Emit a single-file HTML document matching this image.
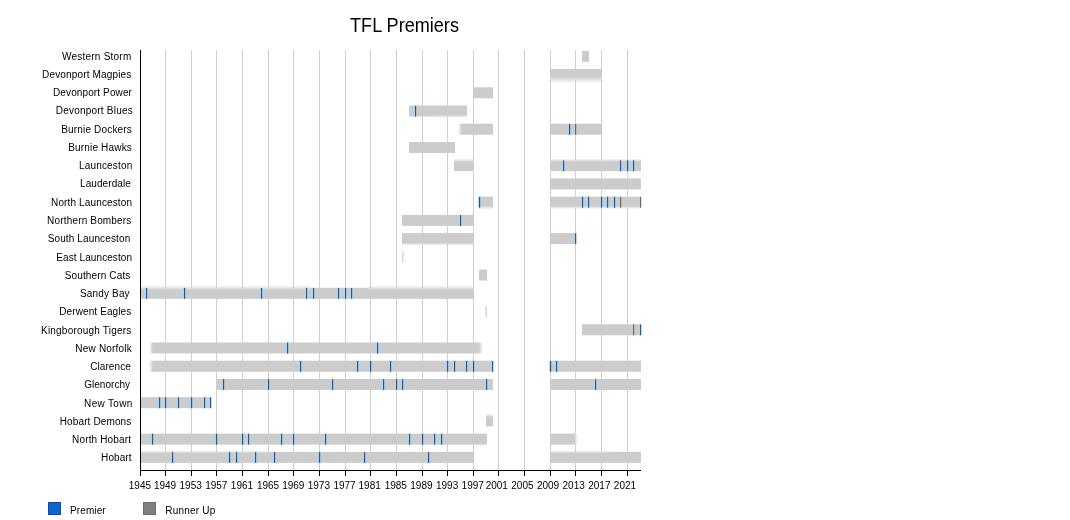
<!DOCTYPE html>
<html><head><meta charset="utf-8"><title>TFL Premiers</title>
<style>
html,body{margin:0;padding:0;background:#fff;}
body{width:1070px;height:520px;overflow:hidden;}
svg{display:block;filter:blur(0.35px);}
text{font-family:"Liberation Sans", Arial, Helvetica, sans-serif;fill:#000;}
</style></head><body>
<svg width="1070" height="520" viewBox="0 0 1070 520">
<rect x="0" y="0" width="1070" height="520" fill="#fff"/>
<defs>
<linearGradient id="gOutT" x1="0" y1="0" x2="0" y2="1"><stop offset="0" stop-color="#ccc" stop-opacity="0"/><stop offset="1" stop-color="#ccc" stop-opacity="0.5"/></linearGradient>
<linearGradient id="gInT" x1="0" y1="0" x2="0" y2="1"><stop offset="0" stop-color="#fff" stop-opacity="0.5"/><stop offset="1" stop-color="#fff" stop-opacity="0"/></linearGradient>
<linearGradient id="gOutB" x1="0" y1="1" x2="0" y2="0"><stop offset="0" stop-color="#ccc" stop-opacity="0"/><stop offset="1" stop-color="#ccc" stop-opacity="0.5"/></linearGradient>
<linearGradient id="gInB" x1="0" y1="1" x2="0" y2="0"><stop offset="0" stop-color="#fff" stop-opacity="0.5"/><stop offset="1" stop-color="#fff" stop-opacity="0"/></linearGradient>
<linearGradient id="gOutL" x1="0" y1="0" x2="1" y2="0"><stop offset="0" stop-color="#ccc" stop-opacity="0"/><stop offset="1" stop-color="#ccc" stop-opacity="0.5"/></linearGradient>
<linearGradient id="gInL" x1="0" y1="0" x2="1" y2="0"><stop offset="0" stop-color="#fff" stop-opacity="0.5"/><stop offset="1" stop-color="#fff" stop-opacity="0"/></linearGradient>
<linearGradient id="gOutR" x1="1" y1="0" x2="0" y2="0"><stop offset="0" stop-color="#ccc" stop-opacity="0"/><stop offset="1" stop-color="#ccc" stop-opacity="0.5"/></linearGradient>
<linearGradient id="gInR" x1="1" y1="0" x2="0" y2="0"><stop offset="0" stop-color="#fff" stop-opacity="0.5"/><stop offset="1" stop-color="#fff" stop-opacity="0"/></linearGradient>
</defs>
<text x="404.5" y="0" font-size="18.1" text-anchor="middle" transform="translate(0,32) scale(1,1.075)">TFL Premiers</text>
<g stroke="#cfcfcf" stroke-width="1" shape-rendering="crispEdges">
<line x1="165.5" y1="50" x2="165.5" y2="470"/>
<line x1="191.5" y1="50" x2="191.5" y2="470"/>
<line x1="216.5" y1="50" x2="216.5" y2="470"/>
<line x1="242.5" y1="50" x2="242.5" y2="470"/>
<line x1="268.5" y1="50" x2="268.5" y2="470"/>
<line x1="293.5" y1="50" x2="293.5" y2="470"/>
<line x1="319.5" y1="50" x2="319.5" y2="470"/>
<line x1="345.5" y1="50" x2="345.5" y2="470"/>
<line x1="370.5" y1="50" x2="370.5" y2="470"/>
<line x1="396.5" y1="50" x2="396.5" y2="470"/>
<line x1="422.5" y1="50" x2="422.5" y2="470"/>
<line x1="447.5" y1="50" x2="447.5" y2="470"/>
<line x1="473.5" y1="50" x2="473.5" y2="470"/>
<line x1="498.5" y1="50" x2="498.5" y2="470"/>
<line x1="524.5" y1="50" x2="524.5" y2="470"/>
<line x1="550.5" y1="50" x2="550.5" y2="470"/>
<line x1="575.5" y1="50" x2="575.5" y2="470"/>
<line x1="601.5" y1="50" x2="601.5" y2="470"/>
<line x1="627.5" y1="50" x2="627.5" y2="470"/>
</g>
<g fill="#cccccc">
<rect x="582" y="50.80" width="7" height="11.00"/>
<rect x="550" y="69.03" width="52" height="11.00"/>
<rect x="473" y="87.26" width="20" height="11.00"/>
<rect x="409" y="105.49" width="58" height="11.00"/>
<rect x="460" y="123.72" width="33" height="11.00"/>
<rect x="550" y="123.72" width="52" height="11.00"/>
<rect x="409" y="141.95" width="46" height="11.00"/>
<rect x="454" y="160.18" width="20" height="11.00"/>
<rect x="550" y="160.18" width="91" height="11.00"/>
<rect x="550" y="178.41" width="91" height="11.00"/>
<rect x="479" y="196.64" width="14" height="11.00"/>
<rect x="550" y="196.64" width="91" height="11.00"/>
<rect x="402" y="214.87" width="72" height="11.00"/>
<rect x="402" y="233.10" width="72" height="11.00"/>
<rect x="550" y="233.10" width="26" height="11.00"/>
<rect x="479" y="269.56" width="8" height="11.00"/>
<rect x="140" y="287.79" width="334" height="11.00"/>
<rect x="582" y="324.25" width="59" height="11.00"/>
<rect x="151" y="342.48" width="330" height="11.00"/>
<rect x="151" y="360.71" width="342" height="11.00"/>
<rect x="550" y="360.71" width="91" height="11.00"/>
<rect x="216" y="378.94" width="277" height="11.00"/>
<rect x="550" y="378.94" width="91" height="11.00"/>
<rect x="140" y="397.17" width="71" height="11.00"/>
<rect x="486" y="415.40" width="7" height="11.00"/>
<rect x="140" y="433.63" width="347" height="11.00"/>
<rect x="550" y="433.63" width="26" height="11.00"/>
<rect x="140" y="451.86" width="334" height="11.00"/>
<rect x="550" y="451.86" width="91" height="11.00"/>
</g>
<rect x="550" y="80.03" width="52" height="3.30" fill="url(#gOutB)"/>
<rect x="550" y="76.73" width="52" height="3.30" fill="url(#gInB)"/>
<rect x="432" y="116.49" width="35" height="1.60" fill="url(#gOutB)"/>
<rect x="432" y="114.89" width="35" height="1.60" fill="url(#gInB)"/>
<rect x="458.00" y="123.72" width="2.00" height="11.00" fill="url(#gOutL)"/>
<rect x="460.00" y="123.72" width="2.00" height="11.00" fill="url(#gInL)"/>
<rect x="454" y="158.18" width="20" height="2.00" fill="url(#gOutT)"/>
<rect x="454" y="160.18" width="20" height="2.00" fill="url(#gInT)"/>
<rect x="550" y="158.58" width="91" height="1.60" fill="url(#gOutT)"/>
<rect x="550" y="160.18" width="91" height="1.60" fill="url(#gInT)"/>
<rect x="479" y="207.64" width="14" height="2.00" fill="url(#gOutB)"/>
<rect x="479" y="205.64" width="14" height="2.00" fill="url(#gInB)"/>
<rect x="550" y="207.64" width="91" height="1.60" fill="url(#gOutB)"/>
<rect x="550" y="206.04" width="91" height="1.60" fill="url(#gInB)"/>
<rect x="402" y="244.10" width="72" height="1.60" fill="url(#gOutB)"/>
<rect x="402" y="242.50" width="72" height="1.60" fill="url(#gInB)"/>
<rect x="140" y="285.39" width="170" height="2.40" fill="url(#gOutT)"/>
<rect x="140" y="287.79" width="170" height="2.40" fill="url(#gInT)"/>
<rect x="368" y="285.39" width="106" height="2.40" fill="url(#gOutT)"/>
<rect x="368" y="287.79" width="106" height="2.40" fill="url(#gInT)"/>
<rect x="149.20" y="342.48" width="1.80" height="11.00" fill="url(#gOutL)"/>
<rect x="151.00" y="342.48" width="1.80" height="11.00" fill="url(#gInL)"/>
<rect x="481.00" y="342.48" width="2.20" height="11.00" fill="url(#gOutR)"/>
<rect x="478.80" y="342.48" width="2.20" height="11.00" fill="url(#gInR)"/>
<rect x="149.20" y="360.71" width="1.80" height="11.00" fill="url(#gOutL)"/>
<rect x="151.00" y="360.71" width="1.80" height="11.00" fill="url(#gInL)"/>
<rect x="486" y="413.40" width="7" height="2.00" fill="url(#gOutT)"/>
<rect x="486" y="415.40" width="7" height="2.00" fill="url(#gInT)"/>
<rect x="576.00" y="433.63" width="1.80" height="11.00" fill="url(#gOutR)"/>
<rect x="574.20" y="433.63" width="1.80" height="11.00" fill="url(#gInR)"/>
<rect x="140" y="450.46" width="130" height="1.40" fill="url(#gOutT)"/>
<rect x="140" y="451.86" width="130" height="1.40" fill="url(#gInT)"/>
<rect x="550" y="450.46" width="60" height="1.40" fill="url(#gOutT)"/>
<rect x="550" y="451.86" width="60" height="1.40" fill="url(#gInT)"/>
<rect x="402.32" y="251.33" width="1" height="11.00" fill="#c2c2c2"/>
<rect x="485.65" y="306.02" width="1" height="11.00" fill="#c2c2c2"/>
<rect x="414" y="105.49" width="1" height="11.00" fill="#a3d5f6" opacity="0.85"/>
<rect x="416" y="105.49" width="1" height="11.00" fill="#a3d5f6" opacity="0.4"/>
<rect x="415" y="105.69" width="1.15" height="10.80" fill="#1d5a98"/>
<rect x="568" y="123.72" width="1" height="11.00" fill="#a3d5f6" opacity="0.85"/>
<rect x="570" y="123.72" width="1" height="11.00" fill="#a3d5f6" opacity="0.4"/>
<rect x="569" y="123.92" width="1.15" height="10.80" fill="#1d5a98"/>
<rect x="575" y="123.92" width="1.2" height="10.80" fill="#6a6a6a"/>
<rect x="562" y="160.18" width="1" height="11.00" fill="#a3d5f6" opacity="0.85"/>
<rect x="564" y="160.18" width="1" height="11.00" fill="#a3d5f6" opacity="0.4"/>
<rect x="563" y="160.38" width="1.15" height="10.80" fill="#1d5a98"/>
<rect x="619" y="160.18" width="1" height="11.00" fill="#a3d5f6" opacity="0.85"/>
<rect x="621" y="160.18" width="1" height="11.00" fill="#a3d5f6" opacity="0.4"/>
<rect x="620" y="160.38" width="1.15" height="10.80" fill="#1d5a98"/>
<rect x="626" y="160.18" width="1" height="11.00" fill="#a3d5f6" opacity="0.85"/>
<rect x="628" y="160.18" width="1" height="11.00" fill="#a3d5f6" opacity="0.4"/>
<rect x="627" y="160.38" width="1.15" height="10.80" fill="#1d5a98"/>
<rect x="632" y="160.18" width="1" height="11.00" fill="#a3d5f6" opacity="0.85"/>
<rect x="634" y="160.18" width="1" height="11.00" fill="#a3d5f6" opacity="0.4"/>
<rect x="633" y="160.38" width="1.15" height="10.80" fill="#1d5a98"/>
<rect x="478" y="196.64" width="1" height="11.00" fill="#a3d5f6" opacity="0.85"/>
<rect x="480" y="196.64" width="1" height="11.00" fill="#a3d5f6" opacity="0.4"/>
<rect x="479" y="196.84" width="1.15" height="10.80" fill="#1d5a98"/>
<rect x="581" y="196.64" width="1" height="11.00" fill="#a3d5f6" opacity="0.85"/>
<rect x="583" y="196.64" width="1" height="11.00" fill="#a3d5f6" opacity="0.4"/>
<rect x="582" y="196.84" width="1.15" height="10.80" fill="#1d5a98"/>
<rect x="587" y="196.64" width="1" height="11.00" fill="#a3d5f6" opacity="0.85"/>
<rect x="589" y="196.64" width="1" height="11.00" fill="#a3d5f6" opacity="0.4"/>
<rect x="588" y="196.84" width="1.15" height="10.80" fill="#1d5a98"/>
<rect x="600" y="196.64" width="1" height="11.00" fill="#a3d5f6" opacity="0.85"/>
<rect x="602" y="196.64" width="1" height="11.00" fill="#a3d5f6" opacity="0.4"/>
<rect x="601" y="196.84" width="1.15" height="10.80" fill="#1d5a98"/>
<rect x="606" y="196.64" width="1" height="11.00" fill="#a3d5f6" opacity="0.85"/>
<rect x="608" y="196.64" width="1" height="11.00" fill="#a3d5f6" opacity="0.4"/>
<rect x="607" y="196.84" width="1.15" height="10.80" fill="#1d5a98"/>
<rect x="613" y="196.64" width="1" height="11.00" fill="#a3d5f6" opacity="0.85"/>
<rect x="615" y="196.64" width="1" height="11.00" fill="#a3d5f6" opacity="0.4"/>
<rect x="614" y="196.84" width="1.15" height="10.80" fill="#1d5a98"/>
<rect x="620" y="196.84" width="1.2" height="10.80" fill="#6a6a6a"/>
<rect x="640" y="196.84" width="1.2" height="10.80" fill="#6a6a6a"/>
<rect x="459" y="214.87" width="1" height="11.00" fill="#a3d5f6" opacity="0.85"/>
<rect x="461" y="214.87" width="1" height="11.00" fill="#a3d5f6" opacity="0.4"/>
<rect x="460" y="215.07" width="1.15" height="10.80" fill="#1d5a98"/>
<rect x="574" y="233.10" width="1" height="11.00" fill="#a3d5f6" opacity="0.85"/>
<rect x="576" y="233.10" width="1" height="11.00" fill="#a3d5f6" opacity="0.4"/>
<rect x="575" y="233.30" width="1.15" height="10.80" fill="#1d5a98"/>
<rect x="145" y="287.79" width="1" height="11.00" fill="#a3d5f6" opacity="0.85"/>
<rect x="147" y="287.79" width="1" height="11.00" fill="#a3d5f6" opacity="0.4"/>
<rect x="146" y="287.99" width="1.15" height="10.80" fill="#1d5a98"/>
<rect x="183" y="287.79" width="1" height="11.00" fill="#a3d5f6" opacity="0.85"/>
<rect x="185" y="287.79" width="1" height="11.00" fill="#a3d5f6" opacity="0.4"/>
<rect x="184" y="287.99" width="1.15" height="10.80" fill="#1d5a98"/>
<rect x="260" y="287.79" width="1" height="11.00" fill="#a3d5f6" opacity="0.85"/>
<rect x="262" y="287.79" width="1" height="11.00" fill="#a3d5f6" opacity="0.4"/>
<rect x="261" y="287.99" width="1.15" height="10.80" fill="#1d5a98"/>
<rect x="305" y="287.79" width="1" height="11.00" fill="#a3d5f6" opacity="0.85"/>
<rect x="307" y="287.79" width="1" height="11.00" fill="#a3d5f6" opacity="0.4"/>
<rect x="306" y="287.99" width="1.15" height="10.80" fill="#1d5a98"/>
<rect x="312" y="287.79" width="1" height="11.00" fill="#a3d5f6" opacity="0.85"/>
<rect x="314" y="287.79" width="1" height="11.00" fill="#a3d5f6" opacity="0.4"/>
<rect x="313" y="287.99" width="1.15" height="10.80" fill="#1d5a98"/>
<rect x="337" y="287.79" width="1" height="11.00" fill="#a3d5f6" opacity="0.85"/>
<rect x="339" y="287.79" width="1" height="11.00" fill="#a3d5f6" opacity="0.4"/>
<rect x="338" y="287.99" width="1.15" height="10.80" fill="#1d5a98"/>
<rect x="344" y="287.79" width="1" height="11.00" fill="#a3d5f6" opacity="0.85"/>
<rect x="346" y="287.79" width="1" height="11.00" fill="#a3d5f6" opacity="0.4"/>
<rect x="345" y="287.99" width="1.15" height="10.80" fill="#1d5a98"/>
<rect x="350" y="287.79" width="1" height="11.00" fill="#a3d5f6" opacity="0.85"/>
<rect x="352" y="287.79" width="1" height="11.00" fill="#a3d5f6" opacity="0.4"/>
<rect x="351" y="287.99" width="1.15" height="10.80" fill="#1d5a98"/>
<rect x="639" y="324.25" width="1" height="11.00" fill="#a3d5f6" opacity="0.85"/>
<rect x="641" y="324.25" width="1" height="11.00" fill="#a3d5f6" opacity="0.4"/>
<rect x="640" y="324.45" width="1.15" height="10.80" fill="#1d5a98"/>
<rect x="633" y="324.45" width="1.2" height="10.80" fill="#6a6a6a"/>
<rect x="286" y="342.48" width="1" height="11.00" fill="#a3d5f6" opacity="0.85"/>
<rect x="288" y="342.48" width="1" height="11.00" fill="#a3d5f6" opacity="0.4"/>
<rect x="287" y="342.68" width="1.15" height="10.80" fill="#1d5a98"/>
<rect x="376" y="342.48" width="1" height="11.00" fill="#a3d5f6" opacity="0.85"/>
<rect x="378" y="342.48" width="1" height="11.00" fill="#a3d5f6" opacity="0.4"/>
<rect x="377" y="342.68" width="1.15" height="10.80" fill="#1d5a98"/>
<rect x="299" y="360.71" width="1" height="11.00" fill="#a3d5f6" opacity="0.85"/>
<rect x="301" y="360.71" width="1" height="11.00" fill="#a3d5f6" opacity="0.4"/>
<rect x="300" y="360.91" width="1.15" height="10.80" fill="#1d5a98"/>
<rect x="356" y="360.71" width="1" height="11.00" fill="#a3d5f6" opacity="0.85"/>
<rect x="358" y="360.71" width="1" height="11.00" fill="#a3d5f6" opacity="0.4"/>
<rect x="357" y="360.91" width="1.15" height="10.80" fill="#1d5a98"/>
<rect x="369" y="360.71" width="1" height="11.00" fill="#a3d5f6" opacity="0.85"/>
<rect x="371" y="360.71" width="1" height="11.00" fill="#a3d5f6" opacity="0.4"/>
<rect x="370" y="360.91" width="1.15" height="10.80" fill="#1d5a98"/>
<rect x="389" y="360.71" width="1" height="11.00" fill="#a3d5f6" opacity="0.85"/>
<rect x="391" y="360.71" width="1" height="11.00" fill="#a3d5f6" opacity="0.4"/>
<rect x="390" y="360.91" width="1.15" height="10.80" fill="#1d5a98"/>
<rect x="446" y="360.71" width="1" height="11.00" fill="#a3d5f6" opacity="0.85"/>
<rect x="448" y="360.71" width="1" height="11.00" fill="#a3d5f6" opacity="0.4"/>
<rect x="447" y="360.91" width="1.15" height="10.80" fill="#1d5a98"/>
<rect x="453" y="360.71" width="1" height="11.00" fill="#a3d5f6" opacity="0.85"/>
<rect x="455" y="360.71" width="1" height="11.00" fill="#a3d5f6" opacity="0.4"/>
<rect x="454" y="360.91" width="1.15" height="10.80" fill="#1d5a98"/>
<rect x="465" y="360.71" width="1" height="11.00" fill="#a3d5f6" opacity="0.85"/>
<rect x="467" y="360.71" width="1" height="11.00" fill="#a3d5f6" opacity="0.4"/>
<rect x="466" y="360.91" width="1.15" height="10.80" fill="#1d5a98"/>
<rect x="472" y="360.71" width="1" height="11.00" fill="#a3d5f6" opacity="0.85"/>
<rect x="474" y="360.71" width="1" height="11.00" fill="#a3d5f6" opacity="0.4"/>
<rect x="473" y="360.91" width="1.15" height="10.80" fill="#1d5a98"/>
<rect x="491" y="360.71" width="1" height="11.00" fill="#a3d5f6" opacity="0.85"/>
<rect x="493" y="360.71" width="1" height="11.00" fill="#a3d5f6" opacity="0.4"/>
<rect x="492" y="360.91" width="1.15" height="10.80" fill="#1d5a98"/>
<rect x="549" y="360.71" width="1" height="11.00" fill="#a3d5f6" opacity="0.85"/>
<rect x="551" y="360.71" width="1" height="11.00" fill="#a3d5f6" opacity="0.4"/>
<rect x="550" y="360.91" width="1.15" height="10.80" fill="#1d5a98"/>
<rect x="555" y="360.71" width="1" height="11.00" fill="#a3d5f6" opacity="0.85"/>
<rect x="557" y="360.71" width="1" height="11.00" fill="#a3d5f6" opacity="0.4"/>
<rect x="556" y="360.91" width="1.15" height="10.80" fill="#1d5a98"/>
<rect x="222" y="378.94" width="1" height="11.00" fill="#a3d5f6" opacity="0.85"/>
<rect x="224" y="378.94" width="1" height="11.00" fill="#a3d5f6" opacity="0.4"/>
<rect x="223" y="379.14" width="1.15" height="10.80" fill="#1d5a98"/>
<rect x="267" y="378.94" width="1" height="11.00" fill="#a3d5f6" opacity="0.85"/>
<rect x="269" y="378.94" width="1" height="11.00" fill="#a3d5f6" opacity="0.4"/>
<rect x="268" y="379.14" width="1.15" height="10.80" fill="#1d5a98"/>
<rect x="331" y="378.94" width="1" height="11.00" fill="#a3d5f6" opacity="0.85"/>
<rect x="333" y="378.94" width="1" height="11.00" fill="#a3d5f6" opacity="0.4"/>
<rect x="332" y="379.14" width="1.15" height="10.80" fill="#1d5a98"/>
<rect x="382" y="378.94" width="1" height="11.00" fill="#a3d5f6" opacity="0.85"/>
<rect x="384" y="378.94" width="1" height="11.00" fill="#a3d5f6" opacity="0.4"/>
<rect x="383" y="379.14" width="1.15" height="10.80" fill="#1d5a98"/>
<rect x="395" y="378.94" width="1" height="11.00" fill="#a3d5f6" opacity="0.85"/>
<rect x="397" y="378.94" width="1" height="11.00" fill="#a3d5f6" opacity="0.4"/>
<rect x="396" y="379.14" width="1.15" height="10.80" fill="#1d5a98"/>
<rect x="401" y="378.94" width="1" height="11.00" fill="#a3d5f6" opacity="0.85"/>
<rect x="403" y="378.94" width="1" height="11.00" fill="#a3d5f6" opacity="0.4"/>
<rect x="402" y="379.14" width="1.15" height="10.80" fill="#1d5a98"/>
<rect x="485" y="378.94" width="1" height="11.00" fill="#a3d5f6" opacity="0.85"/>
<rect x="487" y="378.94" width="1" height="11.00" fill="#a3d5f6" opacity="0.4"/>
<rect x="486" y="379.14" width="1.15" height="10.80" fill="#1d5a98"/>
<rect x="594" y="378.94" width="1" height="11.00" fill="#a3d5f6" opacity="0.85"/>
<rect x="596" y="378.94" width="1" height="11.00" fill="#a3d5f6" opacity="0.4"/>
<rect x="595" y="379.14" width="1.15" height="10.80" fill="#1d5a98"/>
<rect x="158" y="397.17" width="1" height="11.00" fill="#a3d5f6" opacity="0.85"/>
<rect x="160" y="397.17" width="1" height="11.00" fill="#a3d5f6" opacity="0.4"/>
<rect x="159" y="397.37" width="1.15" height="10.80" fill="#1d5a98"/>
<rect x="164" y="397.17" width="1" height="11.00" fill="#a3d5f6" opacity="0.85"/>
<rect x="166" y="397.17" width="1" height="11.00" fill="#a3d5f6" opacity="0.4"/>
<rect x="165" y="397.37" width="1.15" height="10.80" fill="#1d5a98"/>
<rect x="177" y="397.17" width="1" height="11.00" fill="#a3d5f6" opacity="0.85"/>
<rect x="179" y="397.17" width="1" height="11.00" fill="#a3d5f6" opacity="0.4"/>
<rect x="178" y="397.37" width="1.15" height="10.80" fill="#1d5a98"/>
<rect x="190" y="397.17" width="1" height="11.00" fill="#a3d5f6" opacity="0.85"/>
<rect x="192" y="397.17" width="1" height="11.00" fill="#a3d5f6" opacity="0.4"/>
<rect x="191" y="397.37" width="1.15" height="10.80" fill="#1d5a98"/>
<rect x="203" y="397.17" width="1" height="11.00" fill="#a3d5f6" opacity="0.85"/>
<rect x="205" y="397.17" width="1" height="11.00" fill="#a3d5f6" opacity="0.4"/>
<rect x="204" y="397.37" width="1.15" height="10.80" fill="#1d5a98"/>
<rect x="209" y="397.17" width="1" height="11.00" fill="#a3d5f6" opacity="0.85"/>
<rect x="211" y="397.17" width="1" height="11.00" fill="#a3d5f6" opacity="0.4"/>
<rect x="210" y="397.37" width="1.15" height="10.80" fill="#1d5a98"/>
<rect x="151" y="433.63" width="1" height="11.00" fill="#a3d5f6" opacity="0.85"/>
<rect x="153" y="433.63" width="1" height="11.00" fill="#a3d5f6" opacity="0.4"/>
<rect x="152" y="433.83" width="1.15" height="10.80" fill="#1d5a98"/>
<rect x="215" y="433.63" width="1" height="11.00" fill="#a3d5f6" opacity="0.85"/>
<rect x="217" y="433.63" width="1" height="11.00" fill="#a3d5f6" opacity="0.4"/>
<rect x="216" y="433.83" width="1.15" height="10.80" fill="#1d5a98"/>
<rect x="241" y="433.63" width="1" height="11.00" fill="#a3d5f6" opacity="0.85"/>
<rect x="243" y="433.63" width="1" height="11.00" fill="#a3d5f6" opacity="0.4"/>
<rect x="242" y="433.83" width="1.15" height="10.80" fill="#1d5a98"/>
<rect x="247" y="433.63" width="1" height="11.00" fill="#a3d5f6" opacity="0.85"/>
<rect x="249" y="433.63" width="1" height="11.00" fill="#a3d5f6" opacity="0.4"/>
<rect x="248" y="433.83" width="1.15" height="10.80" fill="#1d5a98"/>
<rect x="280" y="433.63" width="1" height="11.00" fill="#a3d5f6" opacity="0.85"/>
<rect x="282" y="433.63" width="1" height="11.00" fill="#a3d5f6" opacity="0.4"/>
<rect x="281" y="433.83" width="1.15" height="10.80" fill="#1d5a98"/>
<rect x="292" y="433.63" width="1" height="11.00" fill="#a3d5f6" opacity="0.85"/>
<rect x="294" y="433.63" width="1" height="11.00" fill="#a3d5f6" opacity="0.4"/>
<rect x="293" y="433.83" width="1.15" height="10.80" fill="#1d5a98"/>
<rect x="324" y="433.63" width="1" height="11.00" fill="#a3d5f6" opacity="0.85"/>
<rect x="326" y="433.63" width="1" height="11.00" fill="#a3d5f6" opacity="0.4"/>
<rect x="325" y="433.83" width="1.15" height="10.80" fill="#1d5a98"/>
<rect x="408" y="433.63" width="1" height="11.00" fill="#a3d5f6" opacity="0.85"/>
<rect x="410" y="433.63" width="1" height="11.00" fill="#a3d5f6" opacity="0.4"/>
<rect x="409" y="433.83" width="1.15" height="10.80" fill="#1d5a98"/>
<rect x="421" y="433.63" width="1" height="11.00" fill="#a3d5f6" opacity="0.85"/>
<rect x="423" y="433.63" width="1" height="11.00" fill="#a3d5f6" opacity="0.4"/>
<rect x="422" y="433.83" width="1.15" height="10.80" fill="#1d5a98"/>
<rect x="433" y="433.63" width="1" height="11.00" fill="#a3d5f6" opacity="0.85"/>
<rect x="435" y="433.63" width="1" height="11.00" fill="#a3d5f6" opacity="0.4"/>
<rect x="434" y="433.83" width="1.15" height="10.80" fill="#1d5a98"/>
<rect x="440" y="433.63" width="1" height="11.00" fill="#a3d5f6" opacity="0.85"/>
<rect x="442" y="433.63" width="1" height="11.00" fill="#a3d5f6" opacity="0.4"/>
<rect x="441" y="433.83" width="1.15" height="10.80" fill="#1d5a98"/>
<rect x="171" y="451.86" width="1" height="11.00" fill="#a3d5f6" opacity="0.85"/>
<rect x="173" y="451.86" width="1" height="11.00" fill="#a3d5f6" opacity="0.4"/>
<rect x="172" y="452.06" width="1.15" height="10.80" fill="#1d5a98"/>
<rect x="228" y="451.86" width="1" height="11.00" fill="#a3d5f6" opacity="0.85"/>
<rect x="230" y="451.86" width="1" height="11.00" fill="#a3d5f6" opacity="0.4"/>
<rect x="229" y="452.06" width="1.15" height="10.80" fill="#1d5a98"/>
<rect x="235" y="451.86" width="1" height="11.00" fill="#a3d5f6" opacity="0.85"/>
<rect x="237" y="451.86" width="1" height="11.00" fill="#a3d5f6" opacity="0.4"/>
<rect x="236" y="452.06" width="1.15" height="10.80" fill="#1d5a98"/>
<rect x="254" y="451.86" width="1" height="11.00" fill="#a3d5f6" opacity="0.85"/>
<rect x="256" y="451.86" width="1" height="11.00" fill="#a3d5f6" opacity="0.4"/>
<rect x="255" y="452.06" width="1.15" height="10.80" fill="#1d5a98"/>
<rect x="273" y="451.86" width="1" height="11.00" fill="#a3d5f6" opacity="0.85"/>
<rect x="275" y="451.86" width="1" height="11.00" fill="#a3d5f6" opacity="0.4"/>
<rect x="274" y="452.06" width="1.15" height="10.80" fill="#1d5a98"/>
<rect x="318" y="451.86" width="1" height="11.00" fill="#a3d5f6" opacity="0.85"/>
<rect x="320" y="451.86" width="1" height="11.00" fill="#a3d5f6" opacity="0.4"/>
<rect x="319" y="452.06" width="1.15" height="10.80" fill="#1d5a98"/>
<rect x="363" y="451.86" width="1" height="11.00" fill="#a3d5f6" opacity="0.85"/>
<rect x="365" y="451.86" width="1" height="11.00" fill="#a3d5f6" opacity="0.4"/>
<rect x="364" y="452.06" width="1.15" height="10.80" fill="#1d5a98"/>
<rect x="427" y="451.86" width="1" height="11.00" fill="#a3d5f6" opacity="0.85"/>
<rect x="429" y="451.86" width="1" height="11.00" fill="#a3d5f6" opacity="0.4"/>
<rect x="428" y="452.06" width="1.15" height="10.80" fill="#1d5a98"/>
<g stroke="#000" stroke-width="1" shape-rendering="crispEdges">
<line x1="140.5" y1="50" x2="140.5" y2="471"/>
<line x1="140" y1="470.5" x2="641" y2="470.5"/>
<line x1="140.5" y1="470" x2="140.5" y2="476"/>
<line x1="165.5" y1="470" x2="165.5" y2="476"/>
<line x1="191.5" y1="470" x2="191.5" y2="476"/>
<line x1="216.5" y1="470" x2="216.5" y2="476"/>
<line x1="242.5" y1="470" x2="242.5" y2="476"/>
<line x1="268.5" y1="470" x2="268.5" y2="476"/>
<line x1="293.5" y1="470" x2="293.5" y2="476"/>
<line x1="319.5" y1="470" x2="319.5" y2="476"/>
<line x1="345.5" y1="470" x2="345.5" y2="476"/>
<line x1="370.5" y1="470" x2="370.5" y2="476"/>
<line x1="396.5" y1="470" x2="396.5" y2="476"/>
<line x1="422.5" y1="470" x2="422.5" y2="476"/>
<line x1="447.5" y1="470" x2="447.5" y2="476"/>
<line x1="473.5" y1="470" x2="473.5" y2="476"/>
<line x1="498.5" y1="470" x2="498.5" y2="476"/>
<line x1="524.5" y1="470" x2="524.5" y2="476"/>
<line x1="550.5" y1="470" x2="550.5" y2="476"/>
<line x1="575.5" y1="470" x2="575.5" y2="476"/>
<line x1="601.5" y1="470" x2="601.5" y2="476"/>
<line x1="627.5" y1="470" x2="627.5" y2="476"/>
</g>
<g font-size="10" text-anchor="middle">
<text x="139.90" y="489">1945</text>
<text x="165.04" y="489">1949</text>
<text x="190.68" y="489">1953</text>
<text x="216.32" y="489">1957</text>
<text x="241.96" y="489">1961</text>
<text x="268.01" y="489">1965</text>
<text x="293.25" y="489">1969</text>
<text x="318.89" y="489">1973</text>
<text x="344.53" y="489">1977</text>
<text x="369.67" y="489">1981</text>
<text x="395.81" y="489">1985</text>
<text x="421.45" y="489">1989</text>
<text x="447.09" y="489">1993</text>
<text x="472.73" y="489">1997</text>
<text x="496.77" y="489">2001</text>
<text x="522.42" y="489">2005</text>
<text x="548.06" y="489">2009</text>
<text x="573.70" y="489">2013</text>
<text x="599.34" y="489">2017</text>
<text x="624.98" y="489">2021</text>
</g>
<g font-size="10" text-anchor="end">
<text x="131.23" y="60.00" textLength="69.18" lengthAdjust="spacing">Western Storm</text>
<text x="131.30" y="78.00" textLength="89.28" lengthAdjust="spacing">Devonport Magpies</text>
<text x="131.96" y="96.00" textLength="78.94" lengthAdjust="spacing">Devonport Power</text>
<text x="132.72" y="114.00" textLength="76.99" lengthAdjust="spacing">Devonport Blues</text>
<text x="131.82" y="133.00" textLength="70.69" lengthAdjust="spacing">Burnie Dockers</text>
<text x="131.82" y="151.00" textLength="63.64" lengthAdjust="spacing">Burnie Hawks</text>
<text x="132.23" y="169.00" textLength="53.17" lengthAdjust="spacing">Launceston</text>
<text x="130.78" y="187.00" textLength="50.68" lengthAdjust="spacing">Lauderdale</text>
<text x="132.02" y="206.00" textLength="80.97" lengthAdjust="spacing">North Launceston</text>
<text x="131.30" y="224.00" textLength="84.18" lengthAdjust="spacing">Northern Bombers</text>
<text x="130.20" y="242.00" textLength="82.55" lengthAdjust="spacing">South Launceston</text>
<text x="132.02" y="261.00" textLength="75.68" lengthAdjust="spacing">East Launceston</text>
<text x="130.30" y="279.00" textLength="65.54" lengthAdjust="spacing">Southern Cats</text>
<text x="129.61" y="297.00" textLength="49.72" lengthAdjust="spacing">Sandy Bay</text>
<text x="131.30" y="315.00" textLength="72.16" lengthAdjust="spacing">Derwent Eagles</text>
<text x="131.30" y="334.00" textLength="90.29" lengthAdjust="spacing">Kingborough Tigers</text>
<text x="131.71" y="352.00" textLength="56.39" lengthAdjust="spacing">New Norfolk</text>
<text x="130.78" y="370.00" textLength="40.64" lengthAdjust="spacing">Clarence</text>
<text x="130.09" y="388.00" textLength="45.92" lengthAdjust="spacing">Glenorchy</text>
<text x="132.23" y="407.00" textLength="48.11" lengthAdjust="spacing">New Town</text>
<text x="131.30" y="425.00" textLength="71.56" lengthAdjust="spacing">Hobart Demons</text>
<text x="131.05" y="443.00" textLength="59.02" lengthAdjust="spacing">North Hobart</text>
<text x="131.56" y="461.00" textLength="30.48" lengthAdjust="spacing">Hobart</text>
</g>
<rect x="48.5" y="502.5" width="12" height="12" fill="#0b66d2" stroke="#0d4c9c" stroke-width="1"/>
<text x="70" y="514" font-size="10" letter-spacing="0.11">Premier</text>
<rect x="143.5" y="502.5" width="12" height="12" fill="#808080" stroke="#6c6c6c" stroke-width="1"/>
<text x="165.3" y="514" font-size="10" letter-spacing="0.21">Runner Up</text>
</svg>
</body></html>
